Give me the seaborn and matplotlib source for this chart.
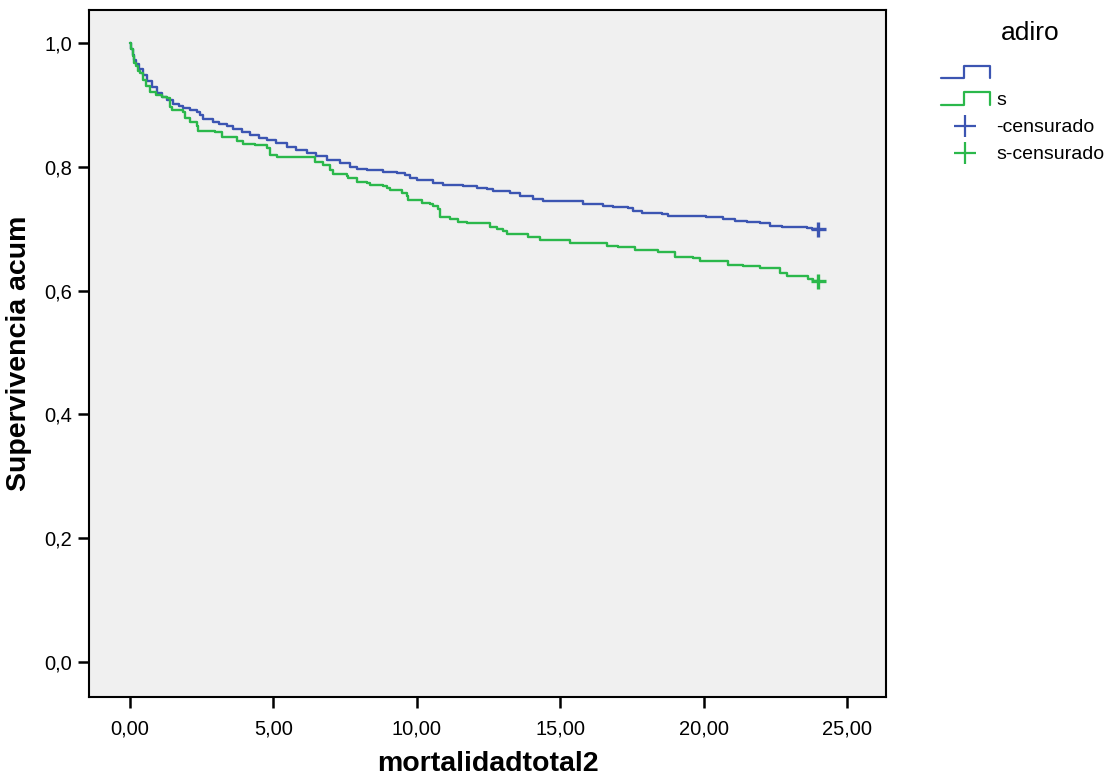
import numpy as np
import pandas as pd
import matplotlib
matplotlib.use("Agg")
import matplotlib.pyplot as plt
import seaborn as sns
from matplotlib.lines import Line2D
from matplotlib.legend_handler import HandlerBase

# ---------------- data ----------------
groups = ["", "s"]
time_blue = [0, 0.05, 0.1, 0.15, 0.2, 0.3, 0.46, 0.6, 0.75, 0.93, 1.1, 1.28, 1.5, 1.7,
             1.86, 2.1, 2.33, 2.45, 2.56, 2.9, 3.1, 3.37, 3.6, 3.9, 4.18, 4.5, 4.77, 5.1,
             5.46, 5.8, 6.16, 6.5, 6.86, 7.32, 7.67, 7.9, 8.25, 8.83, 9.3, 9.58, 9.76,
             9.99, 10.34, 10.58, 10.92, 11.39, 11.62, 12.09, 12.44, 12.67, 13.25, 13.6,
             14.06, 14.41, 15.11, 15.8, 16.5, 16.85, 17.37, 17.55, 17.84, 18.54, 18.77,
             19.58, 20.1, 20.69, 21.1, 21.5, 21.97, 22.32, 22.72, 23.59, 23.77, 24.0]
surv_blue = [1.0, 0.99, 0.98, 0.972, 0.965, 0.957, 0.948, 0.938, 0.928, 0.919, 0.913,
             0.908, 0.902, 0.898, 0.894, 0.891, 0.889, 0.883, 0.877, 0.872, 0.869, 0.866,
             0.861, 0.856, 0.851, 0.847, 0.843, 0.838, 0.832, 0.827, 0.822, 0.817, 0.811,
             0.806, 0.800, 0.797, 0.795, 0.792, 0.789, 0.787, 0.781, 0.779, 0.778, 0.773,
             0.771, 0.770, 0.768, 0.765, 0.764, 0.760, 0.757, 0.752, 0.748, 0.745, 0.744,
             0.740, 0.737, 0.735, 0.733, 0.729, 0.725, 0.723, 0.721, 0.720, 0.718, 0.716,
             0.713, 0.711, 0.709, 0.704, 0.703, 0.701, 0.699, 0.699]
time_green = [0, 0.05, 0.1, 0.15, 0.2, 0.28, 0.35, 0.45, 0.55, 0.7, 0.9, 1.1, 1.28, 1.39,
              1.45, 1.86, 1.92, 2.1, 2.33, 2.38, 2.96, 3.2, 3.72, 3.95, 4.36, 4.77, 4.88,
              5.11, 6.45, 6.74, 6.97, 7.09, 7.55, 7.61, 7.9, 8.25, 8.37, 8.83, 8.95, 9.07,
              9.47, 9.67, 9.7, 10.17, 10.46, 10.58, 10.75, 10.81, 11.16, 11.45, 11.74,
              12.55, 12.79, 13.02, 13.14, 13.89, 14.12, 14.3, 15.34, 16.62, 17.02, 17.6,
              18.42, 19.0, 19.64, 19.87, 20.86, 21.39, 21.97, 22.67, 22.9, 23.65, 23.82, 24.0]
surv_green = [1.0, 0.99, 0.978, 0.968, 0.962, 0.955, 0.951, 0.94, 0.93, 0.921, 0.916,
              0.913, 0.911, 0.897, 0.892, 0.888, 0.878, 0.872, 0.866, 0.857, 0.856, 0.848,
              0.842, 0.837, 0.835, 0.830, 0.819, 0.815, 0.808, 0.803, 0.795, 0.788, 0.785,
              0.781, 0.776, 0.773, 0.770, 0.769, 0.765, 0.762, 0.757, 0.752, 0.746, 0.741,
              0.740, 0.736, 0.731, 0.718, 0.716, 0.711, 0.709, 0.703, 0.700, 0.696, 0.692,
              0.687, 0.686, 0.681, 0.676, 0.672, 0.670, 0.665, 0.662, 0.654, 0.652, 0.648,
              0.641, 0.639, 0.636, 0.628, 0.623, 0.618, 0.616, 0.615]
censor_time = [24.0, 24.0]
censor_surv = [0.699, 0.615]
legend_title = "adiro"
legend_labels = ["", "s", "-censurado", "s-censurado"]
xticks = [0, 5, 10, 15, 20, 25]
yticks = [0.0, 0.2, 0.4, 0.6, 0.8, 1.0]

BLUE = "#3c55b2"
GREEN = "#2bb84b"
palette = {"": BLUE, "s": GREEN}

df = pd.concat([
    pd.DataFrame({"t": time_blue, "S": surv_blue, "g": groups[0]}),
    pd.DataFrame({"t": time_green, "S": surv_green, "g": groups[1]}),
], ignore_index=True)
cens = pd.DataFrame({"t": censor_time, "S": censor_surv, "g": groups})

# ---------------- figure ----------------
sns.set_style("white")
plt.rcParams["font.family"] = ["Liberation Sans", "DejaVu Sans"]
plt.rcParams["text.color"] = "black"
plt.rcParams["axes.labelcolor"] = "black"

fig = plt.figure(figsize=(11.18, 7.82), dpi=100)
ax = fig.add_axes([0.0796, 0.1087, 0.7129, 0.8785])
ax.set_facecolor("#f0f0f0")

sns.lineplot(data=df, x="t", y="S", hue="g", palette=palette, estimator=None,
             drawstyle="steps-post", linewidth=1.7, legend=False, ax=ax, sort=False)
sns.scatterplot(data=cens, x="t", y="S", hue="g", palette=palette, marker="+",
                s=120, linewidth=2.4, legend=False, ax=ax, zorder=5)

ax.set_xlim(-1.43, 26.36)
ax.set_ylim(-0.0565, 1.053)
ax.set_xticks(xticks)
ax.set_xticklabels([f"{v:.2f}".replace(".", ",") for v in xticks])
ax.set_yticks(yticks)
ax.set_yticklabels([f"{v:.1f}".replace(".", ",") for v in yticks])
ax.tick_params(axis="both", direction="out", length=8, width=1.8, labelsize=14.5,
               colors="black", pad=4, bottom=True, left=True)
ax.tick_params(axis="x", pad=8)
for sp in ax.spines.values():
    sp.set_color("black")
    sp.set_linewidth(1.5)

ax.set_xlabel("mortalidadtotal2", fontsize=20.5, fontweight="bold", labelpad=9)
ax.set_ylabel("Supervivencia acum", fontsize=20.5, fontweight="bold", labelpad=9)


# ---------------- legend ----------------
class StepHandler(HandlerBase):
    def create_artists(self, legend, orig_handle, xdescent, ydescent, width, height,
                       fontsize, trans):
        x0 = -xdescent
        y0 = -ydescent
        xs = [x0, x0 + width * 0.47, x0 + width * 0.47, x0 + width, x0 + width]
        ys = [y0, y0, y0 + height, y0 + height, y0]
        ln = Line2D(xs, ys, color=orig_handle.get_color(), linewidth=1.6,
                    transform=trans)
        return [ln]


class StepKey(Line2D):
    pass


h_blue = StepKey([], [], color=BLUE)
h_green = StepKey([], [], color=GREEN)
h_cb = Line2D([], [], color=BLUE, marker="+", linestyle="none", markersize=16,
              markeredgewidth=1.6)
h_cg = Line2D([], [], color=GREEN, marker="+", linestyle="none", markersize=16,
              markeredgewidth=1.6)

fig.text(1030 / 1118, 1 - 33 / 782, legend_title, fontsize=19, ha="center",
         va="center")
leg = fig.legend([h_blue, h_green, h_cb, h_cg], legend_labels, loc="upper left",
                 bbox_to_anchor=(0.826, 0.9386), frameon=False, fontsize=14,
                 handlelength=2.5, handleheight=0.6,
                 handletextpad=0.35, labelspacing=0.51,
                 handler_map={StepKey: StepHandler()})

fig.savefig("out.png", dpi=100, facecolor="white")
